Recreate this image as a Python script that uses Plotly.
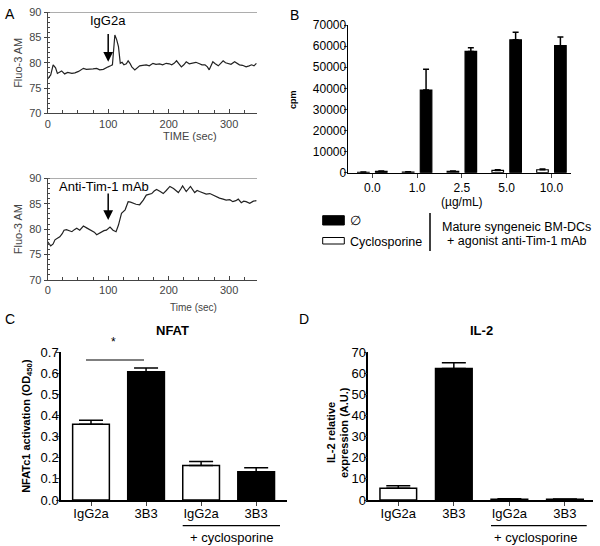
import plotly.graph_objects as go

# ---------------- data ----------------
# Panel A (top): IgG2a calcium trace
igg_t = [0, 5, 9, 13, 16, 20, 23, 28, 33, 40, 45, 51, 55, 59, 64, 70, 75, 81, 86, 92, 96, 100, 104, 107,
         111, 114, 117, 120, 123, 126, 130, 133, 136, 139, 144, 148, 152, 157, 163, 168, 174, 179, 185, 190,
         196, 201, 205, 209, 213, 217, 221, 225, 229, 234, 240, 245, 251, 255, 260, 264, 267, 270, 273, 277,
         282, 286, 290, 294, 298, 303, 309, 313, 317, 322, 328, 333, 337, 341, 345]
igg_v = [76.8, 77.6, 79.6, 79.0, 77.9, 78.2, 78.4, 77.8, 78.1, 77.9, 78.0, 78.3, 78.6, 78.9, 78.7, 78.7, 78.8, 78.9, 78.6, 78.7, 79.0, 79.2, 79.4, 79.6,
         85.5, 84.6, 83.2, 79.9, 80.1, 79.6, 79.8, 80.4, 79.9, 79.2, 78.6, 79.1, 79.4, 79.5, 79.6, 79.4, 79.9, 79.7, 79.8, 79.6,
         79.9, 79.8, 79.6, 79.9, 80.4, 79.8, 79.2, 79.6, 80.2, 79.8, 79.9, 80.1, 79.8, 79.6, 79.6, 79.2, 78.6, 79.6, 80.2, 79.8,
         79.4, 79.9, 80.4, 80.0, 79.8, 79.7, 80.2, 79.9, 79.6, 79.5, 79.2, 79.4, 79.6, 79.4, 79.9]

# Panel A (bottom): anti-Tim-1 mAb calcium trace
tim_t = [0, 5, 9, 12, 16, 20, 24, 27, 31, 34, 40, 44, 48, 53, 59, 65, 70, 73, 77, 81, 85, 89, 93, 97, 103,
         108, 113, 117, 122, 128, 133, 137, 141, 146, 152, 158, 163, 168, 172, 176, 180, 186, 191, 196, 202,
         208, 212, 216, 220, 223, 229, 236, 243, 247, 251, 256, 262, 268, 273, 279, 284, 290, 295, 301, 306,
         311, 315, 320, 324, 328, 334, 340, 345]
tim_v = [77.5, 76.7, 77.1, 77.9, 78.2, 78.5, 79.1, 79.8, 79.9, 79.8, 79.5, 79.9, 80.2, 79.8, 80.6, 80.2, 79.9, 79.8, 79.4, 78.9, 79.2, 79.5, 79.7, 79.8, 80.4,
         79.8, 79.5, 80.8, 83.1, 83.8, 85.4, 85.3, 85.1, 84.9, 84.8, 85.7, 86.7, 86.8, 87.0, 87.5, 87.8, 87.4, 87.0, 87.6, 88.4,
         88.0, 87.6, 87.2, 87.9, 88.5, 87.4, 88.4, 87.2, 87.6, 87.4, 87.2, 86.9, 87.0, 86.7, 86.5, 86.1, 85.9, 85.7, 85.8, 85.4,
         85.6, 85.9, 85.2, 85.5, 85.4, 85.1, 85.5, 85.6]

# Panel B: proliferation (cpm)
b_cats = ["0.0", "1.0", "2.5", "5.0", "10.0"]
b_cyclo = [200, 300, 600, 1100, 1400]
b_cyclo_err = [100, 100, 150, 250, 300]
b_none = [600, 39200, 57500, 63000, 60200]
b_none_err = [200, 9800, 1700, 3600, 4100]

# Panel C: NFAT
c_labels = ["IgG2a", "3B3", "IgG2a", "3B3"]
c_vals = [0.359, 0.608, 0.163, 0.134]
c_err = [0.019, 0.018, 0.019, 0.019]

# Panel D: IL-2
d_labels = ["IgG2a", "3B3", "IgG2a", "3B3"]
d_vals = [5.6, 62.3, 0.4, 0.3]
d_err = [1.2, 2.7, 0.2, 0.15]

bar_colors = ["white", "black", "white", "black"]

W, H = 600, 546
FONT = "Arial, Liberation Sans, Helvetica, sans-serif"


def px(x):
    return x / W


def py(y):
    return 1 - y / H


fig = go.Figure()

# ---- Panel A traces ----
fig.add_trace(go.Scatter(x=igg_t, y=igg_v, mode="lines", line=dict(color="#222", width=1.2),
                         xaxis="x", yaxis="y", showlegend=False))
fig.add_trace(go.Scatter(x=tim_t, y=tim_v, mode="lines", line=dict(color="#222", width=1.2),
                         xaxis="x2", yaxis="y2", showlegend=False))

# ---- Panel B bars ----
fig.add_trace(go.Bar(x=b_cats, y=b_cyclo, marker=dict(color="white", line=dict(color="black", width=1.2)),
                     error_y=dict(type="data", array=b_cyclo_err, arrayminus=[0] * 5, symmetric=False,
                                  color="black", thickness=1.5, width=3),
                     xaxis="x3", yaxis="y3", showlegend=False))
fig.add_trace(go.Bar(x=b_cats, y=b_none, marker=dict(color="black", line=dict(color="black", width=1.2)),
                     error_y=dict(type="data", array=b_none_err, arrayminus=[0] * 5, symmetric=False,
                                  color="black", thickness=1.5, width=3),
                     xaxis="x3", yaxis="y3", showlegend=False))

# ---- Panel C bars ----
fig.add_trace(go.Bar(x=[0, 1, 2, 3], y=c_vals, width=0.667,
                     marker=dict(color=bar_colors, line=dict(color="black", width=1.5)),
                     error_y=dict(type="data", array=c_err, arrayminus=[0] * 4, symmetric=False,
                                  color="black", thickness=1.5, width=12),
                     xaxis="x4", yaxis="y4", showlegend=False))

# ---- Panel D bars ----
fig.add_trace(go.Bar(x=[0, 1, 2, 3], y=d_vals, width=0.66,
                     marker=dict(color=bar_colors, line=dict(color="black", width=1.5)),
                     error_y=dict(type="data", array=d_err, arrayminus=[0] * 4, symmetric=False,
                                  color="black", thickness=1.5, width=12),
                     xaxis="x5", yaxis="y5", showlegend=False))

gray = "#444"
a_x = dict(range=[0, 346], tickvals=[0, 100, 200, 300], ticks="inside", ticklen=4, tickcolor=gray,
           showline=True, linecolor=gray, linewidth=1, showgrid=False, zeroline=False,
           tickfont=dict(size=11, color=gray, family=FONT),
           minor=dict(dtick=25, tick0=0, ticks="inside", ticklen=3, tickcolor=gray))
a_y = dict(range=[70, 90], tickvals=[70, 75, 80, 85, 90], ticks="outside", ticklen=3, tickcolor=gray,
           showline=True, linecolor=gray, linewidth=1, showgrid=False, zeroline=False,
           tickfont=dict(size=11, color=gray, family=FONT),
           minor=dict(dtick=1, tick0=70, ticks="inside", ticklen=2, tickcolor=gray))

layout = dict(
    width=W, height=H, margin=dict(l=0, r=0, t=0, b=0, pad=0, autoexpand=False),
    paper_bgcolor="white", plot_bgcolor="white",
    font=dict(family=FONT, color="black"),
    barmode="group", bargap=0.2, bargroupgap=0.355,
    xaxis=dict(domain=[px(47.7), px(257)], anchor="y", **a_x),
    yaxis=dict(domain=[py(113.3), py(12.3)], anchor="x",
               title=dict(text="Fluo-3 AM", font=dict(size=11, color=gray), standoff=4), **a_y),
    xaxis2=dict(domain=[px(47.7), px(257)], anchor="y2", **a_x),
    yaxis2=dict(domain=[py(280), py(178.3)], anchor="x2",
                title=dict(text="Fluo-3 AM", font=dict(size=11, color=gray), standoff=4), **a_y),
    xaxis3=dict(domain=[px(347.7), px(570.7)], anchor="y3", type="category", range=[-0.55, 4.43],
                ticks="outside", ticklen=4, showline=True, linecolor="black", linewidth=1.2,
                tickfont=dict(size=12, family=FONT), showgrid=False),
    yaxis3=dict(domain=[py(172.7), py(25)], anchor="x3", range=[0, 70000], dtick=10000, tickformat="d",
                ticks="outside", ticklen=3, ticklabelstandoff=-5, showline=True, linecolor="black", linewidth=1.2,
                tickfont=dict(size=12, family=FONT), showgrid=False, zeroline=False),
    xaxis4=dict(domain=[px(61), px(287)], anchor="y4", range=[-0.545, 3.56],
                tickvals=[0, 1, 2, 3], ticktext=c_labels, ticks="outside", ticklen=4, ticklabelstandoff=-3,
                showline=True, linecolor="black", linewidth=1.5, showgrid=False, zeroline=False,
                tickfont=dict(size=13, family=FONT)),
    yaxis4=dict(domain=[py(500), py(352.3)], anchor="x4", range=[0, 0.7], dtick=0.1, tickformat=".1f",
                ticks="outside", ticklen=3, ticklabelstandoff=-5, showline=True, linecolor="black", linewidth=1.5,
                showgrid=False, zeroline=False, tickfont=dict(size=13, family=FONT),
                title=dict(text="<b>NFATc1 activation (OD<sub>450</sub>)</b>", font=dict(size=11), standoff=8)),
    xaxis5=dict(domain=[px(368.3), px(592.7)], anchor="y5", range=[-0.54, 3.5],
                tickvals=[0, 1, 2, 3], ticktext=d_labels, ticks="outside", ticklen=4, ticklabelstandoff=-3,
                showline=True, linecolor="black", linewidth=1.5, showgrid=False, zeroline=False,
                tickfont=dict(size=13, family=FONT)),
    yaxis5=dict(domain=[py(500), py(352.3)], anchor="x5", range=[0, 70], dtick=10,
                ticks="outside", ticklen=3, ticklabelstandoff=-5, showline=True, linecolor="black", linewidth=1.5,
                showgrid=False, zeroline=False, tickfont=dict(size=13, family=FONT)),
)
fig.update_layout(**layout)

shapes = []
annotations = []


def text(x, y, s, size=12, bold=False, xanchor="center", color="black", angle=0):
    annotations.append(dict(x=px(x), y=py(y), xref="paper", yref="paper", text=("<b>%s</b>" % s) if bold else s,
                            showarrow=False, xanchor=xanchor, yanchor="middle", textangle=angle,
                            font=dict(size=size, color=color, family=FONT)))


def line(x0, y0, x1, y1, color="black", width=1.2):
    shapes.append(dict(type="line", xref="paper", yref="paper", x0=px(x0), y0=py(y0), x1=px(x1), y1=py(y1),
                       line=dict(color=color, width=width)))


# top lines at 90 in panel A
shapes.append(dict(type="line", xref="x domain", yref="y", x0=0, x1=1, y0=90, y1=90, line=dict(color="#777", width=1)))
shapes.append(dict(type="line", xref="x2 domain", yref="y2", x0=0, x1=1, y0=90, y1=90, line=dict(color="#777", width=1)))

# arrows
annotations.append(dict(x=100, y=80.2, xref="x", yref="y", ax=100, ay=86.0, axref="x", ayref="y", text="",
                        showarrow=True, arrowhead=2, arrowsize=1.3, arrowwidth=1.5, arrowcolor="black"))
annotations.append(dict(x=100, y=81.8, xref="x2", yref="y2", ax=100, ay=87.3, axref="x2", ayref="y2", text="",
                        showarrow=True, arrowhead=2, arrowsize=1.3, arrowwidth=1.5, arrowcolor="black"))
text(108, 21, "IgG2a", size=13)
text(104, 186.7, "Anti-Tim-1 mAb", size=13)
text(190, 136, "TIME (sec)", size=11, color=gray)
text(193, 307, "Time (sec)", size=10, color=gray)

# panel letters
text(10, 14, "A", size=14)
text(294, 15, "B", size=14)
text(10, 319, "C", size=14)
text(304, 319, "D", size=14)

# panel B extras
text(293, 100, "cpm", size=9, bold=True, angle=-90)
text(461.7, 201.7, "(µg/mL)", size=12)
shapes.append(dict(type="rect", xref="paper", yref="paper", x0=px(322.7), x1=px(344.3), y0=py(225), y1=py(215.7),
                   fillcolor="black", line=dict(color="black", width=1)))
shapes.append(dict(type="rect", xref="paper", yref="paper", x0=px(322.7), x1=px(344.3), y0=py(244), y1=py(237.5),
                   fillcolor="white", line=dict(color="black", width=1)))
text(348, 220, "∅", size=13, xanchor="left")
text(348, 241.5, "Cyclosporine", size=12.5, xanchor="left")
line(430, 213, 430, 251, width=1.5)
text(516.7, 227.3, "Mature syngeneic BM-DCs", size=12.5)
text(516.7, 240.7, "+ agonist anti-Tim-1 mAb", size=12.5)

# panel C extras
text(172.3, 330.7, "NFAT", size=13, bold=True)
line(86, 360, 144, 360, width=1.2)
text(113.3, 342, "*", size=12)
line(182.7, 525.7, 280, 525.7, width=1.2)
text(231.7, 537.3, "+ cyclosporine", size=13)

# panel D extras
text(481.7, 330.7, "IL-2", size=13, bold=True)
text(331, 433, "IL-2 relative", size=11, bold=True, angle=-90)
text(344, 433, "expression (A.U.)", size=11, bold=True, angle=-90)
line(491, 525.7, 586.7, 525.7, width=1.2)
text(535, 537.3, "+ cyclosporine", size=13)

fig.update_layout(shapes=shapes, annotations=annotations)
fig.write_html("out.html", config={"displayModeBar": False},
               post_script="document.body.style.margin='0px';")
